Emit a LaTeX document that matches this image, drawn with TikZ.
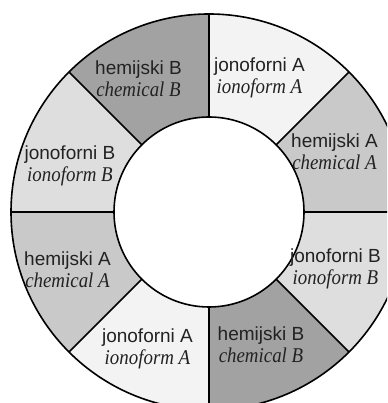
\documentclass[tikz,border=0pt]{standalone}
\usepackage{fontspec}
\setmainfont{Liberation Serif}
\setsansfont{Liberation Sans}
\definecolor{ionA}{HTML}{F3F3F3}
\definecolor{chemA}{HTML}{C9C9C9}
\definecolor{ionB}{HTML}{DEDEDE}
\definecolor{chemB}{HTML}{A2A2A2}
\definecolor{txt}{HTML}{222222}
\begin{document}
\begin{tikzpicture}[x=1pt,y=1pt,
  ring/.style={draw=black,line width=1.6pt},
  spoke/.style={draw=black,line width=1.5pt},
  lbl/.style={font=\sffamily\fontsize{19}{22.5}\selectfont,text=txt,align=center,anchor=base,inner sep=0pt}]
\useasboundingbox (0,0) rectangle (387,403);
\clip (0,0) rectangle (387,403);
\fill[white] (0,0) rectangle (387,403);
\begin{scope}[shift={(209,191)}]
  \foreach \s/\c in {90/ionA,45/chemA,0/ionB,-45/chemB,-90/ionA,-135/chemA,-180/ionB,-225/chemB}{
    \pgfmathsetmacro{\e}{\s-45}
    \fill[\c] (\s:198) arc[start angle=\s,end angle=\e,radius=198] -- (\e:95) arc[start angle=\e,end angle=\s,radius=95] -- cycle;
  }
  \foreach \a in {0,45,...,315}
    \draw[spoke] (\a:95) -- (\a:198);
  \draw[ring] (0,0) circle[radius=198];
  \draw[ring] (0,0) circle[radius=95];
\end{scope}
\newcommand{\itl}[1]{\scalebox{0.9}[1]{\rmfamily\itshape\fontsize{21}{22.5}\selectfont #1}}
\node[lbl] (ionA1) at (259.5,309) {jonoforni A\\\itl{ionoform A}};
\node[lbl] (chemA1) at (334.5,233) {hemijski A\\\itl{chemical A}};
\node[lbl] (ionB1) at (335.5,118) {jonoforni B\\\itl{ionoform B}};
\node[lbl] (chemB1) at (261,40) {hemijski B\\\itl{chemical B}};
\node[lbl] (ionA2) at (147.5,38) {jonoforni A\\\itl{ionoform A}};
\node[lbl] (chemA2) at (67.5,115) {hemijski A\\\itl{chemical A}};
\node[lbl] (ionB2) at (70,221) {jonoforni B\\\itl{ionoform B}};
\node[lbl] (chemB2) at (138.5,306) {hemijski B\\\itl{chemical B}};
\end{tikzpicture}
\end{document}
